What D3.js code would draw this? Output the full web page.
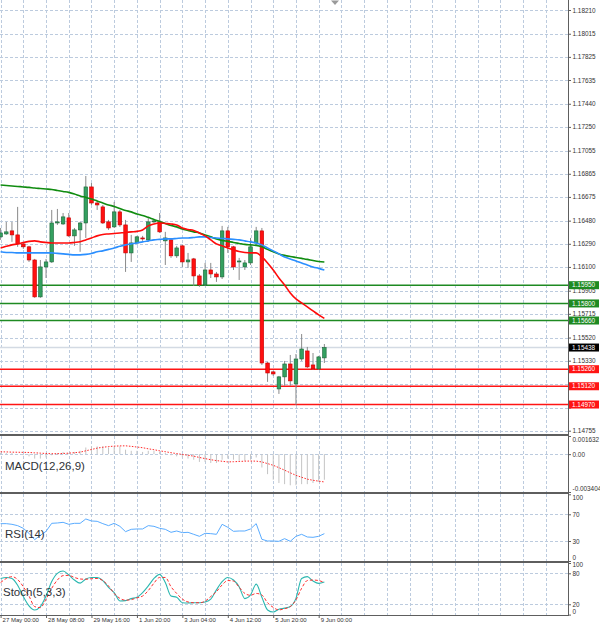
<!DOCTYPE html>
<html>
<head>
<meta charset="utf-8">
<script src="https://cdn.jsdelivr.net/npm/d3@7"></script>
<style>
  html, body { margin: 0; padding: 0; background: #fff; }
  svg { display: block; font-family: "Liberation Sans", Arial, sans-serif; }
</style>
</head>
<body>
<svg id="chart" width="600" height="623"></svg>
<script>
const timeIndex = [0, 8, 16, 24, 32, 40, 48, 56];
const timeLabels = ['27 May 00:00', '28 May 08:00', '29 May 16:00', '1 Jun 20:00', '3 Jun 04:00', '4 Jun 12:00', '5 Jun 20:00', '9 Jun 00:00'];

const open = [1.16347, 1.16371, 1.16396, 1.16363, 1.16289, 1.16265, 1.16157, 1.15854, 1.16100, 1.16141,
  1.16461, 1.16453, 1.16503, 1.16355, 1.16404, 1.16461, 1.16757, 1.16625, 1.16593, 1.16470,
  1.16429, 1.16552, 1.16445, 1.16215, 1.16297, 1.16338, 1.16322, 1.16470, 1.16470, 1.16314,
  1.16322, 1.16191, 1.16273, 1.16141, 1.16166, 1.16026, 1.15952, 1.16075, 1.16042, 1.16018,
  1.16396, 1.16265, 1.16141, 1.16100, 1.16133, 1.16297, 1.16396, 1.15311, 1.15238, 1.15098,
  1.15197, 1.15303, 1.15139, 1.15344, 1.15410, 1.15295, 1.15262, 1.15353];
const high = [1.16420, 1.16470, 1.16470, 1.16593, 1.16297, 1.16273, 1.16166, 1.16157, 1.16166, 1.16568,
  1.16576, 1.16543, 1.16543, 1.16420, 1.16470, 1.16847, 1.16789, 1.16642, 1.16609, 1.16486,
  1.16634, 1.16568, 1.16486, 1.16363, 1.16355, 1.16355, 1.16503, 1.16494, 1.16543, 1.16388,
  1.16330, 1.16273, 1.16281, 1.16215, 1.16174, 1.16042, 1.16133, 1.16133, 1.16059, 1.16437,
  1.16429, 1.16273, 1.16174, 1.16157, 1.16338, 1.16429, 1.16420, 1.15320, 1.15246, 1.15205,
  1.15328, 1.15377, 1.15385, 1.15549, 1.15443, 1.15393, 1.15369, 1.15467];
const low = [1.16322, 1.16363, 1.16306, 1.16265, 1.16248, 1.16141, 1.15846, 1.15846, 1.16009, 1.16133,
  1.16445, 1.16445, 1.16347, 1.16273, 1.16224, 1.16338, 1.16609, 1.16568, 1.16453, 1.16404,
  1.16420, 1.16429, 1.16059, 1.16141, 1.16289, 1.16314, 1.16306, 1.16461, 1.16379, 1.16116,
  1.16174, 1.16174, 1.16100, 1.16092, 1.15944, 1.15936, 1.15944, 1.16009, 1.15977, 1.16001,
  1.16215, 1.16075, 1.15993, 1.16075, 1.16116, 1.16281, 1.15295, 1.15156, 1.15205, 1.15057,
  1.15123, 1.15123, 1.14967, 1.15328, 1.15270, 1.15254, 1.15254, 1.15311];
const close = [1.16379, 1.16388, 1.16363, 1.16289, 1.16265, 1.16157, 1.15854, 1.16100, 1.16141, 1.16461,
  1.16470, 1.16511, 1.16355, 1.16404, 1.16461, 1.16757, 1.16625, 1.16609, 1.16461, 1.16420,
  1.16552, 1.16445, 1.16215, 1.16297, 1.16347, 1.16330, 1.16470, 1.16478, 1.16388, 1.16338,
  1.16191, 1.16256, 1.16141, 1.16157, 1.16026, 1.15952, 1.16075, 1.16042, 1.16018, 1.16396,
  1.16265, 1.16100, 1.16149, 1.16133, 1.16265, 1.16396, 1.15311, 1.15229, 1.15221, 1.15197,
  1.15303, 1.15164, 1.15344, 1.15426, 1.15279, 1.15262, 1.15361, 1.15438];

const maFast = [1.16256, 1.16269, 1.16281, 1.16289, 1.16301, 1.16310, 1.16314, 1.16306, 1.16301, 1.16297,
  1.16297, 1.16297, 1.16297, 1.16301, 1.16306, 1.16322, 1.16338, 1.16355, 1.16367, 1.16371,
  1.16375, 1.16379, 1.16383, 1.16388, 1.16392, 1.16404, 1.16437, 1.16453, 1.16461, 1.16457,
  1.16453, 1.16445, 1.16420, 1.16408, 1.16400, 1.16379, 1.16355, 1.16322, 1.16289, 1.16273,
  1.16256, 1.16240, 1.16227, 1.16219, 1.16215, 1.16215, 1.16182, 1.16133, 1.16075, 1.16009,
  1.15952, 1.15886, 1.15837, 1.15804, 1.15772, 1.15739, 1.15706, 1.15677];
const maMid = [1.16224, 1.16219, 1.16219, 1.16215, 1.16215, 1.16215, 1.16215, 1.16215, 1.16215, 1.16215,
  1.16211, 1.16207, 1.16203, 1.16199, 1.16199, 1.16203, 1.16211, 1.16224, 1.16232, 1.16244,
  1.16256, 1.16269, 1.16281, 1.16289, 1.16297, 1.16306, 1.16314, 1.16322, 1.16326, 1.16330,
  1.16330, 1.16334, 1.16338, 1.16338, 1.16342, 1.16347, 1.16347, 1.16342, 1.16338, 1.16334,
  1.16330, 1.16326, 1.16322, 1.16314, 1.16306, 1.16297, 1.16281, 1.16256, 1.16232, 1.16207,
  1.16182, 1.16166, 1.16149, 1.16133, 1.16116, 1.16100, 1.16088, 1.16075];
const maSlow = [1.16773, 1.16769, 1.16765, 1.16761, 1.16757, 1.16753, 1.16748, 1.16744, 1.16740, 1.16736,
  1.16728, 1.16720, 1.16712, 1.16699, 1.16683, 1.16671, 1.16658, 1.16642, 1.16625, 1.16609,
  1.16597, 1.16580, 1.16564, 1.16552, 1.16535, 1.16523, 1.16507, 1.16490, 1.16474, 1.16457,
  1.16441, 1.16429, 1.16412, 1.16400, 1.16388, 1.16379, 1.16363, 1.16347, 1.16330, 1.16318,
  1.16310, 1.16301, 1.16293, 1.16285, 1.16281, 1.16277, 1.16265, 1.16244, 1.16224, 1.16207,
  1.16195, 1.16186, 1.16178, 1.16170, 1.16162, 1.16153, 1.16145, 1.16141];

const macdHist = [0.0001, 0.0001, 0.0001, 0, -0.0001, -0.0002, -0.0004, -0.0004, -0.0003, -0.0001,
  0.0001, 0.0002, 0.0001, 0.0002, 0.0003, 0.0006, 0.0007, 0.0007, 0.0007, 0.0006,
  0.0007, 0.0007, 0.0004, 0.0003, 0.0003, 0.0002, 0.0003, 0.0003, 0.0002, 0.0001,
  -0.0001, -0.0002, -0.0003, -0.0004, -0.0005, -0.0007, -0.0007, -0.0008, -0.0008, -0.0005,
  -0.0004, -0.0005, -0.0006, -0.0006, -0.0005, -0.0003, -0.0012, -0.0018, -0.0023, -0.0026,
  -0.0027, -0.0028, -0.0028, -0.0027, -0.0027, -0.0026, -0.0025, -0.0023];
const macdSignal = [0.00021, 0.00020, 0.00018, 0.00017, 0.00016, 0.00015, 0.00012, 0.00009, 0.00006, 0.00004,
  0.00004, 0.00006, 0.00009, 0.00013, 0.00018, 0.00030, 0.00042, 0.00054, 0.00062, 0.00068,
  0.00072, 0.00074, 0.00075, 0.00070, 0.00064, 0.00058, 0.00048, 0.00040, 0.00030, 0.00022,
  0.00013, 0.00005, -0.00003, -0.00010, -0.00018, -0.00030, -0.00040, -0.00050, -0.00058, -0.00064,
  -0.00070, -0.00068, -0.00066, -0.00063, -0.00062, -0.00063, -0.00070, -0.00085, -0.00100, -0.00122,
  -0.00144, -0.00168, -0.00190, -0.00208, -0.00225, -0.00235, -0.00243, -0.00250];

const rsi = [56, 56, 55, 53, 49, 41.5, 32, 38.5, 44.5, 56.5,
  57, 58, 55, 56.5, 56.5, 63, 60, 59.5, 56, 53,
  56.5, 52, 44, 47.5, 48, 48, 53, 52, 49, 47.5,
  43, 45, 42.5, 43, 40, 37, 41.5, 41, 40, 55,
  50.5, 44.5, 45, 45, 48, 56, 32.5, 30, 30, 29.5,
  33.5, 29.5, 37, 40, 36, 35.5, 37, 41];

const stochK = [70, 72, 70, 57, 35, 17, 9, 15.5, 36, 64,
  80, 84.5, 77, 67, 61, 69, 72, 72, 66, 53,
  42.5, 26.5, 27, 31, 33.5, 42.5, 55.5, 70, 78, 62,
  36, 33.5, 23, 22.5, 23, 23, 24.5, 30, 48, 64,
  72, 67, 54, 31, 38, 59, 33.5, 9, 5, 10.5,
  12.5, 15.5, 31.5, 70, 73.5, 65, 60.5, 63];
const stochD = [62, 70, 73.5, 68, 54, 36, 15.5, 13.5, 30, 51,
  67, 75.5, 76, 72, 69, 68.5, 69.5, 70, 66, 55.5,
  41, 31.5, 28, 29, 32.5, 36, 46.5, 61, 72, 72,
  54, 41, 30, 24.5, 23, 23, 26, 35, 44.5, 57.5,
  66, 65, 53, 41, 37.5, 41, 38, 23, 14, 9,
  11.5, 15.5, 28.5, 51, 66, 67, 66, 62];

const priceTicks = [1.18210, 1.18015, 1.17825, 1.17635, 1.17440, 1.17250, 1.17055, 1.16865, 1.16675, 1.16480,
  1.16290, 1.16100, 1.15905, 1.15715, 1.15520, 1.15330, 1.15140, 1.14945, 1.14755];
const hiddenPriceLabels = [1.15140, 1.14945];
const resistanceLevels = [1.15950, 1.15800, 1.15660];
const supportLevels = [1.15260, 1.15120, 1.14970];
const lastPrice = 1.15438;
const macdTicks = [0.001632, 0, -0.003404];
const rsiTicks = [100, 70, 30, 0];
const rsiLevels = [70, 30];
const stochTicks = [100, 80, 20, 0];
const stochLevels = [80, 20];

const svg = d3.select('#chart');
const plotWidth = 568;
const gridColor = '#bccbde';
const textColor = '#333';

const x = d3.scaleLinear().domain([0, 100]).range([0.6, 568.6]);
const yMain = d3.scaleLinear().domain([1.14755, 1.18210]).range([430.7, 10]);
const yMacd = d3.scaleLinear().domain([-0.003404, 0.001632]).range([492, 436]);
const yRsi = d3.scaleLinear().domain([0, 100]).range([561, 494.3]);
const yStoch = d3.scaleLinear().domain([0, 100]).range([614.6, 563]);

const panels = [
  { id: 'main', top: 0, bottom: 434 },
  { id: 'macd', top: 436, bottom: 492 },
  { id: 'rsi', top: 494, bottom: 561 },
  { id: 'stoch', top: 563, bottom: 615 },
];

const defs = svg.append('defs');
panels.forEach(panel => {
  defs.append('clipPath')
    .attr('id', 'clip-' + panel.id)
    .append('rect')
    .attr('x', 0)
    .attr('y', panel.top)
    .attr('width', plotWidth)
    .attr('height', panel.bottom - panel.top);
});

const gridIndex = d3.range(0, 100, 4).filter(i => x(i) < plotWidth);

const layers = {};
panels.forEach(panel => {
  const layer = svg.append('g').attr('clip-path', `url(#clip-${panel.id})`);
  layer.append('g')
    .selectAll('line')
    .data(gridIndex)
    .join('line')
    .attr('x1', i => Math.round(x(i)) + 0.5)
    .attr('x2', i => Math.round(x(i)) + 0.5)
    .attr('y1', panel.top)
    .attr('y2', panel.bottom)
    .attr('stroke', gridColor)
    .attr('stroke-dasharray', '3,2');
  layers[panel.id] = layer;
});

function hGrid(layer, values, scale) {
  layer.append('g')
    .selectAll('line')
    .data(values)
    .join('line')
    .attr('x1', 0)
    .attr('x2', plotWidth)
    .attr('y1', d => Math.round(scale(d)) + 0.5)
    .attr('y2', d => Math.round(scale(d)) + 0.5)
    .attr('stroke', gridColor)
    .attr('stroke-dasharray', '3,2');
}

hGrid(layers.main, priceTicks, yMain);
hGrid(layers.macd, [0], yMacd);
hGrid(layers.rsi, rsiLevels, yRsi);
hGrid(layers.stoch, stochLevels, yStoch);

// main chart
const main = layers.main;

main.append('line')
  .attr('x1', 0)
  .attr('x2', plotWidth)
  .attr('y1', yMain(lastPrice))
  .attr('y2', yMain(lastPrice))
  .attr('stroke', '#d3dae3')
  .attr('stroke-width', 1.5);

const levelData = [
  ...resistanceLevels.map(v => ({ v, color: '#1e8a22' })),
  ...supportLevels.map(v => ({ v, color: '#ff1414' })),
];

main.append('g')
  .selectAll('line')
  .data(levelData)
  .join('line')
  .attr('x1', 0)
  .attr('x2', plotWidth)
  .attr('y1', d => yMain(d.v))
  .attr('y2', d => yMain(d.v))
  .attr('stroke', d => d.color)
  .attr('stroke-width', 1.6);

const candles = open.map((o, i) => ({ i, o, h: high[i], l: low[i], c: close[i] }));

main.append('g')
  .selectAll('line')
  .data(candles)
  .join('line')
  .attr('x1', d => x(d.i))
  .attr('x2', d => x(d.i))
  .attr('y1', d => yMain(d.h))
  .attr('y2', d => yMain(d.l))
  .attr('stroke', '#8a8a8a')
  .attr('stroke-width', 1);

main.append('g')
  .selectAll('rect')
  .data(candles)
  .join('rect')
  .attr('x', d => x(d.i) - 1.8)
  .attr('width', 3.6)
  .attr('y', d => yMain(Math.max(d.o, d.c)))
  .attr('height', d => Math.max(1, Math.abs(yMain(d.o) - yMain(d.c))))
  .attr('fill', d => d.c >= d.o ? '#34a060' : '#ff1010')
  .attr('stroke', d => d.c >= d.o ? '#1c6438' : '#c40000')
  .attr('stroke-width', 0.6);

const priceLine = d3.line()
  .x((d, i) => x(i))
  .y(d => yMain(d))
  .curve(d3.curveMonotoneX);

[[maSlow, '#108c10'], [maMid, '#2b8fff'], [maFast, '#ff0a0a']].forEach(([values, color]) => {
  main.append('path')
    .datum(values)
    .attr('d', priceLine)
    .attr('fill', 'none')
    .attr('stroke', color)
    .attr('stroke-width', 1.6);
});

// MACD
const macd = layers.macd;
macd.append('g')
  .selectAll('line')
  .data(macdHist)
  .join('line')
  .attr('x1', (d, i) => x(i))
  .attr('x2', (d, i) => x(i))
  .attr('y1', yMacd(0))
  .attr('y2', d => yMacd(d))
  .attr('stroke', '#c4c4c4')
  .attr('stroke-width', 1);

macd.append('path')
  .datum(macdSignal)
  .attr('d', d3.line().x((d, i) => x(i)).y(d => yMacd(d)))
  .attr('fill', 'none')
  .attr('stroke', '#ff2a2a')
  .attr('stroke-width', 1)
  .attr('stroke-dasharray', '1.5,1.5');

// RSI
layers.rsi.append('path')
  .datum(rsi)
  .attr('d', d3.line().x((d, i) => x(i)).y(d => yRsi(d)))
  .attr('fill', 'none')
  .attr('stroke', '#5aacff')
  .attr('stroke-width', 1);

// Stochastic
layers.stoch.append('path')
  .datum(stochK)
  .attr('d', d3.line().x((d, i) => x(i)).y(d => yStoch(d)).curve(d3.curveMonotoneX))
  .attr('fill', 'none')
  .attr('stroke', '#2ab7b0')
  .attr('stroke-width', 1.1);

layers.stoch.append('path')
  .datum(stochD)
  .attr('d', d3.line().x((d, i) => x(i)).y(d => yStoch(d)).curve(d3.curveMonotoneX))
  .attr('fill', 'none')
  .attr('stroke', '#ff3030')
  .attr('stroke-width', 1)
  .attr('stroke-dasharray', '3,2');

// indicator names
const names = [
  { text: 'MACD(12,26,9)', x: 5, y: 466 },
  { text: 'RSI(14)', x: 5, y: 533.5 },
  { text: 'Stoch(5,3,3)', x: 3, y: 592 },
];
svg.append('g')
  .selectAll('text')
  .data(names)
  .join('text')
  .attr('x', d => d.x)
  .attr('y', d => d.y)
  .attr('dominant-baseline', 'central')
  .attr('font-size', 11.5)
  .attr('fill', '#2f3338')
  .text(d => d.text);

// frame
svg.append('g')
  .selectAll('rect')
  .data([434, 492, 561])
  .join('rect')
  .attr('x', 0)
  .attr('y', d => d)
  .attr('width', plotWidth + 1)
  .attr('height', 2)
  .attr('fill', '#5e5e5e');

svg.append('line')
  .attr('x1', 0)
  .attr('x2', plotWidth + 1)
  .attr('y1', 615.5)
  .attr('y2', 615.5)
  .attr('stroke', '#5e5e5e');

svg.append('line')
  .attr('x1', plotWidth + 0.5)
  .attr('x2', plotWidth + 0.5)
  .attr('y1', 0)
  .attr('y2', 616)
  .attr('stroke', '#5e5e5e');

svg.append('path')
  .attr('d', 'M331,0.5 L339,0.5 L335,5 Z')
  .attr('fill', '#9a9a9a');

// axes
function styleAxis(g) {
  g.attr('font-family', '"Liberation Sans", Arial, sans-serif')
    .attr('font-size', 6.4);
  g.select('.domain').remove();
  g.selectAll('.tick line').attr('stroke', '#5e5e5e');
  g.selectAll('.tick text').attr('fill', textColor);
}

svg.append('g')
  .attr('transform', `translate(${plotWidth},0)`)
  .call(d3.axisRight(yMain).tickValues(priceTicks)
    .tickFormat(d => hiddenPriceLabels.includes(d) ? '' : d.toFixed(5))
    .tickSize(3).tickPadding(1.5))
  .call(styleAxis);

function edgeDy(ticks) {
  const max = d3.max(ticks);
  const min = d3.min(ticks);
  return d => d === max ? '0.85em' : d === min ? '-0.25em' : '0.32em';
}

svg.append('g')
  .attr('transform', `translate(${plotWidth},0)`)
  .call(d3.axisRight(yMacd).tickValues(macdTicks).tickFormat(d => d === 0 ? '0.00' : d.toFixed(6)).tickSize(3).tickPadding(1.5))
  .call(styleAxis)
  .call(g => g.selectAll('.tick text').attr('dy', edgeDy(macdTicks)));

svg.append('g')
  .attr('transform', `translate(${plotWidth},0)`)
  .call(d3.axisRight(yRsi).tickValues(rsiTicks).tickFormat(d3.format('d')).tickSize(3).tickPadding(1.5))
  .call(styleAxis)
  .call(g => g.selectAll('.tick text').attr('dy', edgeDy(rsiTicks)));

svg.append('g')
  .attr('transform', `translate(${plotWidth},0)`)
  .call(d3.axisRight(yStoch).tickValues(stochTicks).tickFormat(d3.format('d')).tickSize(3).tickPadding(1.5))
  .call(styleAxis)
  .call(g => g.selectAll('.tick text').attr('dy', d => d === 100 ? '0.55em' : d === 0 ? '-0.1em' : '0.32em'));

svg.append('g')
  .attr('transform', 'translate(0,615)')
  .call(d3.axisBottom(x).tickValues(timeIndex).tickFormat((d, i) => timeLabels[i]).tickSize(3).tickPadding(1))
  .call(styleAxis)
  .call(g => g.selectAll('.tick text')
    .attr('font-size', 6)
    .attr('text-anchor', 'start')
    .attr('x', 1.5)
    .attr('y', 6.6)
    .attr('dy', null));

// level tags
const tags = [
  ...levelData,
  { v: lastPrice, color: '#000' },
];
const tagGroup = svg.append('g')
  .selectAll('g')
  .data(tags)
  .join('g')
  .attr('transform', d => `translate(${plotWidth + 1},${yMain(d.v)})`);

tagGroup.append('rect')
  .attr('x', 0)
  .attr('y', -4)
  .attr('width', 30)
  .attr('height', 8)
  .attr('fill', d => d.color);

tagGroup.append('text')
  .attr('x', 3)
  .attr('dy', '0.34em')
  .attr('font-size', 6.4)
  .attr('fill', '#fff')
  .text(d => d.v.toFixed(5));
</script>
</body>
</html>
